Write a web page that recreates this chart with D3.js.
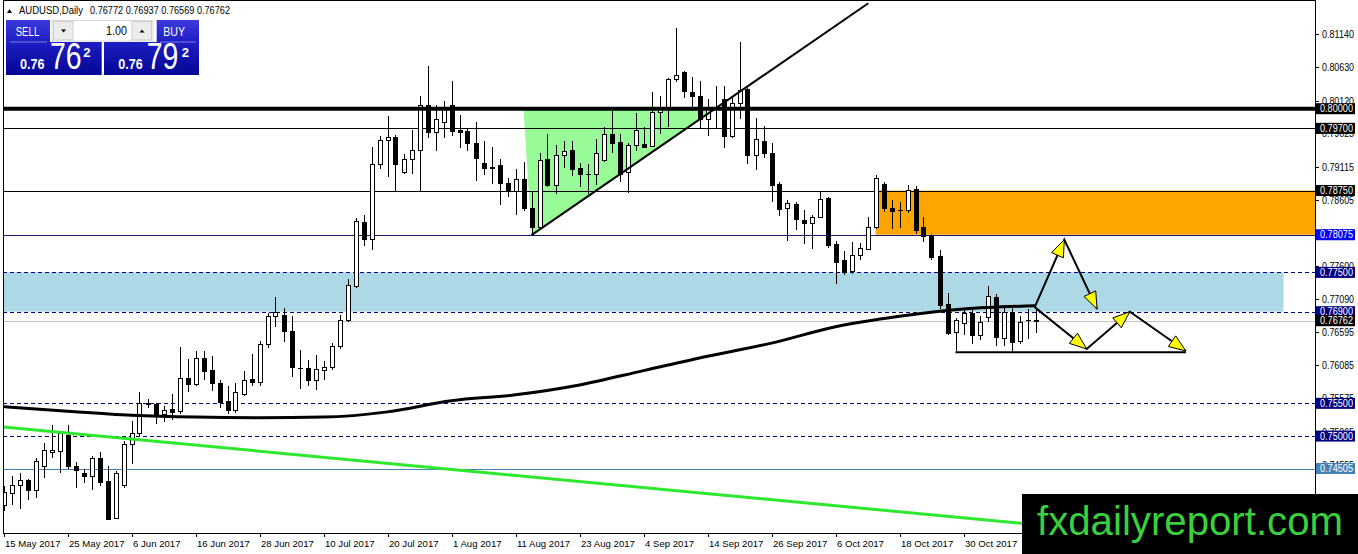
<!DOCTYPE html>
<html><head><meta charset="utf-8">
<script src="https://cdn.jsdelivr.net/npm/d3@7"></script>
<style>html,body{margin:0;padding:0;background:#fff;overflow:hidden;} svg{display:block;font-family:"Liberation Sans",Arial,sans-serif;}</style>
</head><body><svg id="c" width="1358" height="554"></svg>
<script>
// ---------- DATA ----------
const symbol = "AUDUSD,Daily";
const bidPrice = 0.76762;
const askPrice = 0.76792;
const lotSize = "1.00";
const barOpen  = [.7394,.7413,.7426,.7433,.7418,.7454,.7476,.7477,.7502,.7455,.7444,.7439,.7466,.7432,.7375,.7426,.7488,.7505,.7551,.7549,.7533,.7541,.7538,.7588,.7579,.7619,.7601,.7581,.7553,.7540,.7564,.7587,.7583,.7640,.7683,.7685,.7660,.7604,.7604,.7585,.7601,.7605,.7637,.7678,.7729,.7827,.7801,.7915,.7952,.7957,.7904,.7923,.7937,.8005,.7965,.7980,.8005,.7967,.7966,.7947,.7917,.7911,.7914,.7886,.7874,.7892,.7849,.7820,.7923,.7883,.7929,.7937,.7909,.7901,.7901,.7921,.7962,.7949,.7903,.7944,.7946,.7943,.7995,.7999,.8045,.8056,.8026,.8019,.7984,.8001,.8015,.7958,.8008,.8030,.7930,.7950,.7932,.7885,.7848,.7855,.7830,.7825,.7834,.7864,.7793,.7769,.7752,.7777,.7785,.7819,.7885,.7849,.7845,.7845,.7877,.7819,.7806,.7775,.7702,.7659,.7672,.7688,.7655,.7682,.7713,.7650,.7690,.7645,.7677,.76772];
const barHigh  = [.7424,.7439,.7444,.7434,.7466,.7490,.7517,.7508,.7517,.7460,.7450,.7470,.7476,.7455,.7446,.7493,.7523,.7567,.7556,.7550,.7546,.7565,.7636,.7618,.7630,.7630,.7623,.7586,.7576,.7581,.7600,.7625,.7645,.7688,.7713,.7696,.7684,.7632,.7616,.7624,.7615,.7642,.7685,.7740,.7833,.7838,.7941,.7958,.7989,.7960,.7931,.7968,.8020,.8065,.8006,.8012,.8042,.7991,.7969,.7979,.7950,.7941,.7923,.7894,.7908,.7918,.7874,.7933,.7961,.7944,.7950,.7950,.7917,.7915,.7953,.7972,.7997,.7961,.7948,.7993,.7972,.8026,.8020,.8047,.8123,.8058,.8048,.8043,.8015,.8035,.8035,.8017,.8102,.8035,.7986,.7974,.7947,.7888,.7861,.7857,.7846,.7838,.7875,.7865,.7798,.7783,.7796,.7795,.7835,.7898,.7888,.7860,.7857,.7884,.7882,.7835,.7809,.7784,.7718,.7680,.7694,.7696,.7684,.7729,.7717,.7695,.7699,.7684,.7694,.76937];
const barLow   = [.7385,.7395,.7389,.7403,.7406,.7436,.7466,.7443,.7450,.7421,.7428,.7417,.7424,.7372,.7373,.7421,.7457,.7500,.7543,.7518,.7522,.7524,.7534,.7568,.7576,.7585,.7569,.7543,.7534,.7535,.7561,.7577,.7577,.7634,.7666,.7644,.7591,.7572,.7577,.7571,.7586,.7601,.7633,.7675,.7726,.7791,.7784,.7908,.7896,.7875,.7901,.7901,.7875,.7955,.7936,.7955,.7959,.7940,.7936,.7890,.7898,.7885,.7853,.7865,.7838,.7843,.7807,.7819,.7881,.7869,.7909,.7897,.7881,.7869,.7884,.7919,.7932,.7888,.7871,.7935,.7940,.7941,.7961,.7972,.8041,.8017,.7997,.7970,.7958,.7970,.7940,.7956,.7985,.7916,.7907,.7925,.7858,.7836,.7798,.7815,.7794,.7786,.7833,.7787,.7732,.7746,.7748,.7769,.7784,.7817,.7842,.7816,.7818,.7840,.7809,.7797,.7769,.7694,.7655,.7630,.7655,.7640,.7647,.7674,.7638,.7638,.7628,.7640,.7649,.76569];
const barClose = [.7414,.7426,.7433,.7418,.7462,.7478,.7478,.7505,.7455,.7448,.7439,.7466,.7430,.7374,.7444,.7488,.7505,.7551,.7549,.7530,.7540,.7537,.7588,.7579,.7620,.7599,.7581,.7552,.7540,.7567,.7586,.7583,.7640,.7683,.7689,.7660,.7605,.7604,.7585,.7602,.7605,.7637,.7677,.7730,.7828,.7801,.7915,.7952,.7957,.7915,.7923,.7937,.8005,.7965,.7985,.7999,.7966,.7965,.7947,.7925,.7910,.7909,.7887,.7874,.7892,.7849,.7819,.7922,.7884,.7929,.7936,.7908,.7901,.7901,.7932,.7961,.7948,.7900,.7944,.7967,.7942,.7995,.8003,.8045,.8052,.8027,.8019,.7984,.7999,.8003,.7958,.8008,.8029,.7930,.7954,.7932,.7884,.7847,.7856,.7832,.7825,.7834,.7862,.7792,.7766,.7750,.7776,.7787,.7819,.7894,.7849,.7843,.7845,.7876,.7815,.7806,.7774,.7700,.7658,.7677,.7688,.7655,.7675,.7714,.7652,.7690,.7643,.7675,.7678,.76762];

const dateTickBars   = [0,8,16,24,32,40,48,56,64,72,80,88,96,104,112,120];
const dateTickLabels = ["15 May 2017","25 May 2017","6 Jun 2017","16 Jun 2017","28 Jun 2017","10 Jul 2017","20 Jul 2017","1 Aug 2017","11 Aug 2017","23 Aug 2017","4 Sep 2017","14 Sep 2017","26 Sep 2017","6 Oct 2017","18 Oct 2017","30 Oct 2017"];
const priceTicks = [0.81140,0.80630,0.80120,0.79625,0.79115,0.78605,0.78095,0.77600,0.77090,0.76595,0.76085,0.75575,0.75065,0.74555,0.74045];

// moving average (sampled)
const maBars   = [0,8,16,24,32,40,48,56,64,72,80,88,96,104,112,120,129];
const maValues = [.7545,.7538,.7532,.7529,.7528,.7529,.7537,.7554,.7563,.7578,.7600,.7622,.7642,.7667,.7683,.7694,.7699];

// horizontal levels
const levelPrices = [0.80000,0.79700,0.78750,0.78075,0.77500,0.76900,0.75500,0.75000,0.74505];
const levelKinds  = ["thick","thin","thin","navy","dash","dash","dash","dash","steel"];
// zones
const orangeZone = {fromBar:109, toBar:170, top:0.78750, bottom:0.78075};
const blueZone   = {fromBar:-2, toBar:160, top:0.77500, bottom:0.76900};
// triangle & trendlines
const triangleBars   = [65, 66, 88.7];
const trianglePrices = [0.8000, 0.7807, 0.8000];
const upTrendBars   = [66, 108.1];
const upTrendPrices = [0.7807, 0.8161];
const greenTrendBars   = [0, 140];
const greenTrendPrices = [0.7514, 0.7352];
const supportBars   = [119, 147.8];
const supportPrices = [0.7628, 0.7628];
// projected paths (bar, price)
const pathUpBars   = [128.9, 132.6, 136.7];
const pathUpPrices = [0.7697, 0.7800, 0.7694];
const pathDnBars   = [128.9, 135.4, 140.8, 147.8];
const pathDnPrices = [0.7697, 0.7633, 0.7690, 0.7630];

// ---------- SCALES ----------
const svg = d3.select("#c");
const L = 3, R = 1315, T = 1, B = 533;
const x = d3.scaleLinear().domain([0, 164]).range([3.5, 1315.5]);
const y = d3.scaleLinear().domain([0.73520, 0.8166]).range([533, 0]);

svg.append("rect").attr("width",1358).attr("height",554).attr("fill","#fff");
svg.append("defs").append("clipPath").attr("id","plot")
  .append("rect").attr("x",L).attr("y",T).attr("width",R-L).attr("height",B-T);
const g = svg.append("g").attr("clip-path","url(#plot)");

// zones
g.append("rect").attr("x",x(blueZone.fromBar)).attr("width",x(blueZone.toBar)-x(blueZone.fromBar))
  .attr("y",y(blueZone.top)).attr("height",y(blueZone.bottom)-y(blueZone.top)).attr("fill","#ADD8E6");
g.append("rect").attr("x",x(orangeZone.fromBar)).attr("width",x(orangeZone.toBar)-x(orangeZone.fromBar))
  .attr("y",y(orangeZone.top)).attr("height",y(orangeZone.bottom)-y(orangeZone.top)).attr("fill","#FFA500");
g.append("path").attr("d", d3.line()(triangleBars.map((b,i)=>[x(b), y(trianglePrices[i])])) + "Z")
  .attr("fill","#98FB98");

// thin level lines
levelPrices.forEach((p,i)=>{
  const k = levelKinds[i];
  if (k==="thick") return;
  const yy = Math.round(y(p))+0.5;
  const ln = g.append("line").attr("x1",L).attr("x2",R).attr("y1",yy).attr("y2",yy).attr("stroke-width",1);
  if (k==="thin") ln.attr("stroke","#000");
  if (k==="navy") ln.attr("stroke","#1a1a70");
  if (k==="dash") ln.attr("stroke","#000080").attr("stroke-dasharray","4,3");
  if (k==="steel") ln.attr("stroke","#4682B4");
});
// bid line
g.append("line").attr("x1",L).attr("x2",R).attr("y1",Math.round(y(bidPrice))+0.5).attr("y2",Math.round(y(bidPrice))+0.5)
  .attr("stroke","#c0c0c0");

// candles
const bars = d3.range(barOpen.length);
const cg = g.append("g").attr("shape-rendering","crispEdges");
bars.forEach(i=>{
  const cx = Math.round(x(i));
  const o=barOpen[i], h=barHigh[i], l=barLow[i], c=barClose[i];
  cg.append("line").attr("x1",cx+0.5).attr("x2",cx+0.5).attr("y1",y(h)).attr("y2",y(l)).attr("stroke","#000");
  const top = Math.round(y(Math.max(o,c))), bot = Math.round(y(Math.min(o,c)));
  if (bot - top < 1) {
    cg.append("line").attr("x1",cx-2).attr("x2",cx+3).attr("y1",top+0.5).attr("y2",top+0.5).attr("stroke","#000");
  } else {
    cg.append("rect").attr("x",cx-1.5).attr("y",top+0.5).attr("width",4).attr("height",bot-top)
      .attr("fill", c>o ? "#fff" : "#000").attr("stroke","#000");
  }
});

// moving average
g.append("path").attr("d", d3.line().curve(d3.curveMonotoneX)(maBars.map((b,i)=>[x(b), y(maValues[i])])))
  .attr("fill","none").attr("stroke","#000").attr("stroke-width",3);
// green trend
g.append("path").attr("d", d3.line()(greenTrendBars.map((b,i)=>[x(b), y(greenTrendPrices[i])])))
  .attr("stroke","#2ee82e").attr("stroke-width",3).attr("fill","none");
// up trend
g.append("path").attr("d", d3.line()(upTrendBars.map((b,i)=>[x(b), y(upTrendPrices[i])])))
  .attr("stroke","#000").attr("stroke-width",2).attr("fill","none");
// thick 0.8 line
levelPrices.forEach((p,i)=>{
  if (levelKinds[i]!=="thick") return;
  g.append("line").attr("x1",L).attr("x2",R).attr("y1",y(p)).attr("y2",y(p)).attr("stroke","#000").attr("stroke-width",4);
});
// support
g.append("path").attr("d", d3.line()(supportBars.map((b,i)=>[x(b), y(supportPrices[i])])))
  .attr("stroke","#000").attr("stroke-width",2).attr("fill","none");

// projected paths with arrowheads
function drawPath(bs, ps){
  const pts = bs.map((b,i)=>[x(b), y(ps[i])]);
  g.append("path").attr("d", d3.line()(pts)).attr("stroke","#000").attr("stroke-width",2).attr("fill","none");
  for (let k=1;k<pts.length;k++){
    const [x1,y1]=pts[k-1], [x2,y2]=pts[k];
    const len=Math.hypot(x2-x1,y2-y1), ux=(x2-x1)/len, uy=(y2-y1)/len;
    const bx=x2-ux*17, by=y2-uy*17, px=-uy*6.5, py=ux*6.5;
    g.append("path").attr("d",`M${x2},${y2}L${bx+px},${by+py}L${bx-px},${by-py}Z`)
      .attr("fill","#FFFF00").attr("stroke","#000").attr("stroke-width",1);
  }
}
drawPath(pathUpBars, pathUpPrices);
drawPath(pathDnBars, pathDnPrices);

// frame
svg.append("rect").attr("x",L+0.5).attr("y",T-0.5).attr("width",R-L).attr("height",B-T+1)
  .attr("fill","none").attr("stroke","#000").attr("shape-rendering","crispEdges");

// price axis
const pa = svg.append("g");
priceTicks.forEach(p=>{
  const yy = Math.round(y(p))+0.5;
  pa.append("line").attr("x1",R).attr("x2",R+4).attr("y1",yy).attr("y2",yy).attr("stroke","#000");
  pa.append("text").attr("x",1322).attr("y",yy).attr("dy","0.35em").attr("font-size",10)
    .attr("textLength",32).attr("lengthAdjust","spacingAndGlyphs").attr("fill","#000").text(p.toFixed(5));
});
const tagColors = {thick:"#000",thin:"#000",navy:"#0000ff",dash:"#000080",steel:"#4682B4"};
function tag(p, col){
  const yy = y(p);
  pa.append("rect").attr("x",R+1).attr("y",yy-5.5).attr("width",39).attr("height",11).attr("fill",col);
  pa.append("text").attr("x",1320).attr("y",yy).attr("dy","0.36em").attr("font-size",10)
    .attr("textLength",33).attr("lengthAdjust","spacingAndGlyphs").attr("fill","#fff").text(p.toFixed(5));
}
levelPrices.forEach((p,i)=>tag(p, tagColors[levelKinds[i]]));
tag(bidPrice, "#000");

// date axis
const da = svg.append("g");
dateTickBars.forEach((b,i)=>{
  const xx = Math.round(x(b))+0.5;
  da.append("line").attr("x1",xx).attr("x2",xx).attr("y1",B).attr("y2",B+4).attr("stroke","#000");
  da.append("text").attr("x",xx+0.5).attr("y",547).attr("font-size",9.6).attr("fill","#000").text(dateTickLabels[i]);
});

// watermark box
svg.append("rect").attr("x",1022).attr("y",494).attr("width",336).attr("height",60).attr("fill","#000");
svg.append("text").attr("x",1037).attr("y",535).attr("font-size",40).attr("fill","#3ccf3c")
  .attr("textLength",306).attr("lengthAdjust","spacingAndGlyphs").text("fxdailyreport.com");

// header
svg.append("path").attr("d","M7,13L9.5,9L12,13Z").attr("fill","#000");
svg.append("text").attr("x",19).attr("y",14).attr("font-size",10).attr("textLength",64)
  .attr("lengthAdjust","spacingAndGlyphs").text(symbol);
const last = barOpen.length-1;
svg.append("text").attr("x",90).attr("y",14).attr("font-size",10).attr("textLength",140)
  .attr("lengthAdjust","spacingAndGlyphs")
  .text([barOpen[last],barHigh[last],barLow[last],barClose[last]].map(v=>v.toFixed(5)).join(" "));

// trade widget
const defs = svg.select("defs");
const gr = defs.append("linearGradient").attr("id","bl").attr("gradientUnits","userSpaceOnUse")
  .attr("x1",0).attr("y1",20).attr("x2",0).attr("y2",75);
gr.append("stop").attr("offset",0).attr("stop-color","#3a3adc");
gr.append("stop").attr("offset",0.4).attr("stop-color","#1e1ec4");
gr.append("stop").attr("offset",1).attr("stop-color","#050595");
const w = svg.append("g");
w.append("path").attr("d","M6,20H50V42H101.7V75H6Z").attr("fill","url(#bl)");
w.append("path").attr("d","M156.7,20H199V75H104V42H156.7Z").attr("fill","url(#bl)");
w.append("line").attr("x1",10).attr("x2",47).attr("y1",42).attr("y2",42).attr("stroke","#7b7be6");
w.append("line").attr("x1",160).attr("x2",196).attr("y1",42).attr("y2",42).attr("stroke","#7b7be6");
// spinner
w.append("rect").attr("x",52).attr("y",20.5).attr("width",101).attr("height",20.5).attr("fill","#fff").attr("stroke","#d8d8d8");
w.append("rect").attr("x",53.5).attr("y",21.5).attr("width",19.5).attr("height",18.5).attr("fill","#ececec").attr("stroke","#cfcfcf");
w.append("rect").attr("x",132).attr("y",21.5).attr("width",19.5).attr("height",18.5).attr("fill","#ececec").attr("stroke","#cfcfcf");
w.append("path").attr("d","M61,29.5H66L63.5,32.5Z").attr("fill","#000");
w.append("path").attr("d","M139.5,32.5H144.5L142,29.5Z").attr("fill","#000");
w.append("text").attr("x",106).attr("y",35).attr("font-size",13).attr("textLength",21)
  .attr("lengthAdjust","spacingAndGlyphs").attr("fill","#000").text(lotSize);
w.append("text").attr("x",15.7).attr("y",36).attr("font-size",12.5).attr("textLength",23.6)
  .attr("lengthAdjust","spacingAndGlyphs").attr("fill","#fff").text("SELL");
w.append("text").attr("x",163.3).attr("y",36).attr("font-size",12.5).attr("textLength",21.7)
  .attr("lengthAdjust","spacingAndGlyphs").attr("fill","#fff").text("BUY");
function quote(v, x0, xBig, xSup){
  const s = v.toFixed(5);
  w.append("text").attr("x",x0).attr("y",69.3).attr("font-size",14).attr("font-weight","bold")
    .attr("textLength",24.5).attr("lengthAdjust","spacingAndGlyphs").attr("fill","#fff").text(s.slice(0,4));
  w.append("text").attr("x",xBig).attr("y",69.3).attr("font-size",37)
    .attr("textLength",31.6).attr("lengthAdjust","spacingAndGlyphs").attr("fill","#fff").text(s.slice(4,6));
  w.append("text").attr("x",xSup).attr("y",56.7).attr("font-size",13).attr("font-weight","bold")
    .attr("textLength",7.3).attr("lengthAdjust","spacingAndGlyphs").attr("fill","#fff").text(s.slice(6,7));
}
quote(bidPrice, 20, 50, 83.3);
quote(askPrice, 118.3, 146.7, 181.7);
</script></body></html>
